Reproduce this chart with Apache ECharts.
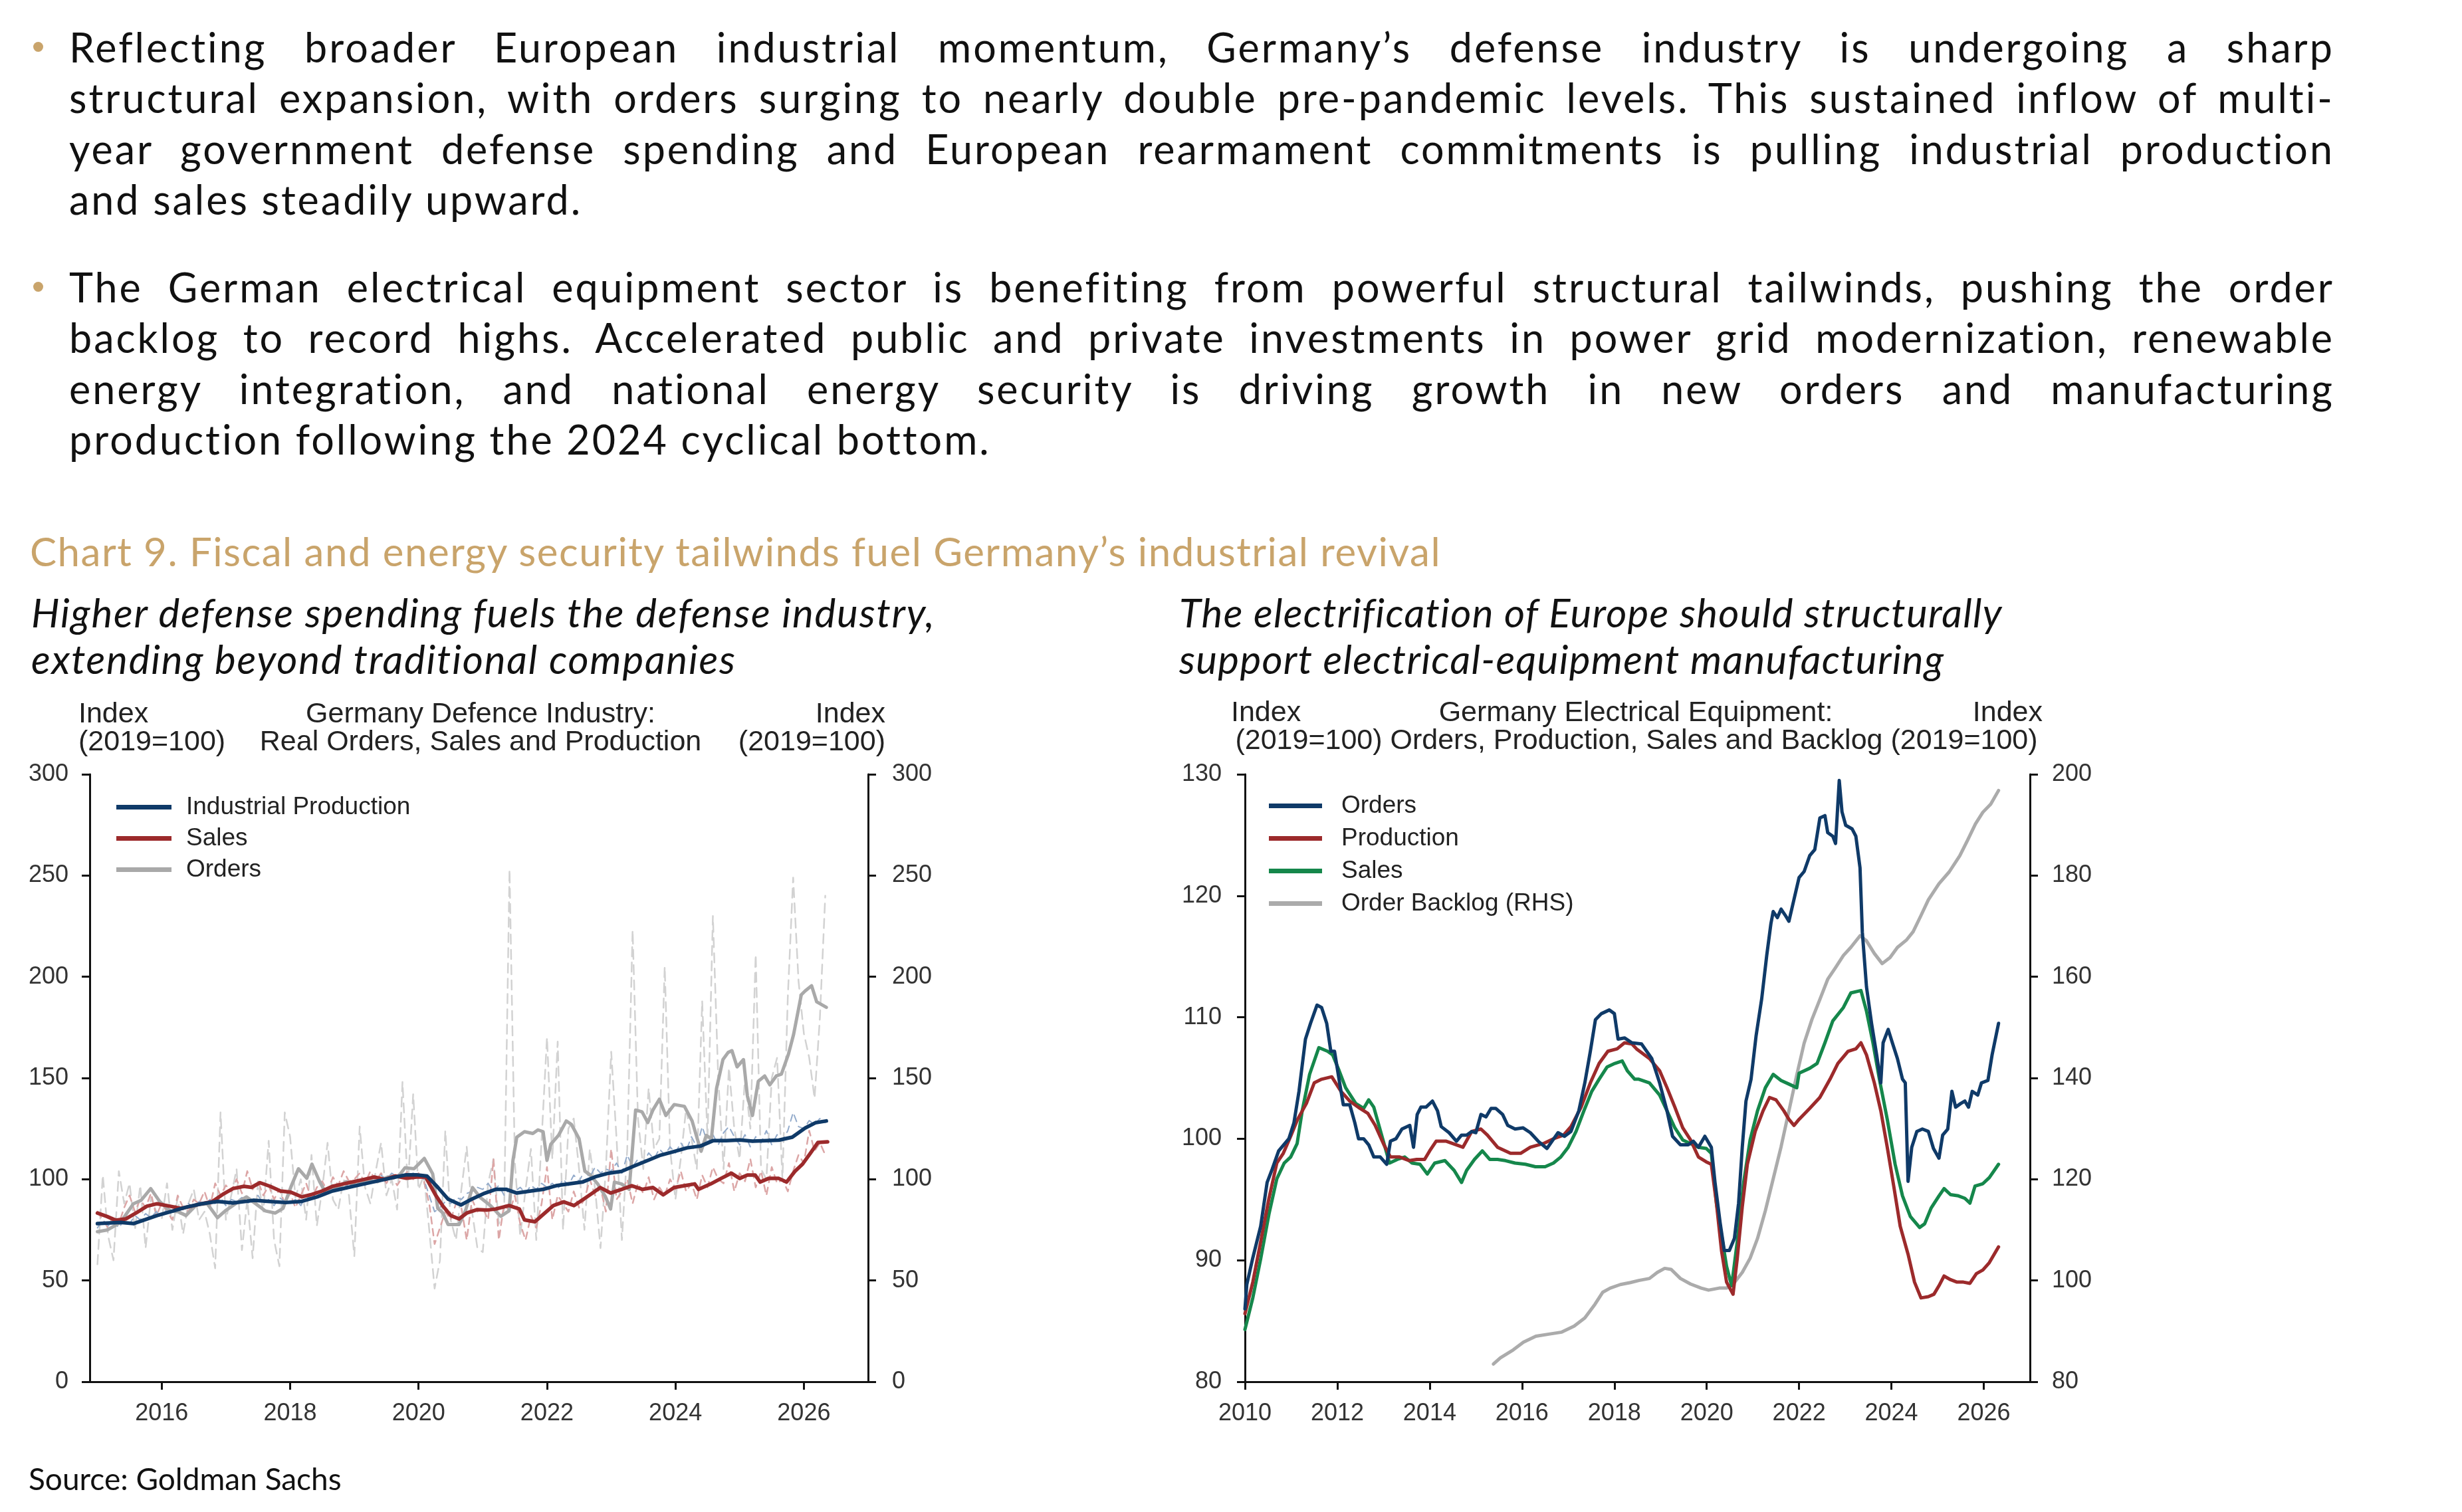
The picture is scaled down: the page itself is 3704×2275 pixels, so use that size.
<!DOCTYPE html>
<html>
<head>
<meta charset="utf-8">
<title>Chart 9 - Germany industrial revival</title>
<script src="https://cdn.jsdelivr.net/npm/echarts@6.0.0/dist/echarts.min.js"></script>
<style>
  html, body { margin: 0; padding: 0; background: #fff; }
  body { width: 3704px; height: 2275px; position: relative; overflow: hidden; font-family: Lato, "Open Sans", sans-serif; color: #111; }
  .para { position: absolute; left: 104px; width: 3408px; font-size: 61px; line-height: 76.3px; }
  .para div { text-align: justify; text-align-last: justify; }
  .para div.end { text-align-last: left; }
  .dot { position: absolute; left: 50px; width: 15px; height: 15px; border-radius: 50%; background: #c9a46b; }
  .title { position: absolute; left: 45px; top: 794px; font-size: 60px; line-height: 70px; letter-spacing: 1.5px; color: #c9a46b; white-space: nowrap; }
  .sub { position: absolute; top: 886px; font-size: 60px; line-height: 70px; letter-spacing: 1.8px; font-style: italic; white-space: nowrap; }
  .source { position: absolute; left: 43px; top: 2200px; font-size: 46px; line-height: 50px; white-space: nowrap; }
  #left { position: absolute; left: 0; top: 1030px; width: 1750px; height: 1200px; }
  #right { position: absolute; left: 1750px; top: 1030px; width: 1600px; height: 1200px; }
</style>
</head>
<body>

<div class="dot" style="top:63px"></div>
<div class="para" style="top:33px">
  <div>Reflecting broader European industrial momentum, Germany’s defense industry is undergoing a sharp</div>
  <div>structural expansion, with orders surging to nearly double pre-pandemic levels. This sustained inflow of multi-</div>
  <div>year government defense spending and European rearmament commitments is pulling industrial production</div>
  <div class="end">and sales steadily upward.</div>
</div>

<div class="dot" style="top:424px"></div>
<div class="para" style="top:394px">
  <div>The German electrical equipment sector is benefiting from powerful structural tailwinds, pushing the order</div>
  <div>backlog to record highs. Accelerated public and private investments in power grid modernization, renewable</div>
  <div>energy integration, and national energy security is driving growth in new orders and manufacturing</div>
  <div class="end">production following the 2024 cyclical bottom.</div>
</div>

<div class="title">Chart 9. Fiscal and energy security tailwinds fuel Germany’s industrial revival</div>
<div class="sub" style="left:47px">Higher defense spending fuels the defense industry,<br>extending beyond traditional companies</div>
<div class="sub" style="left:1774px; letter-spacing:1.3px">The electrification of Europe should structurally<br>support electrical-equipment manufacturing</div>

<div id="left"></div>
<div id="right"></div>

<div class="source">Source: Goldman Sachs</div>

<script>
// ---------- left chart: defence industry (index 2019=100) ----------
const defenceYears = [2016, 2018, 2020, 2022, 2024, 2026];

// solid lines, [year, index]
const ipSolid = [[2015.0,78.1],[2015.36,78.7],[2015.56,78.1],[2015.72,79.8],[2015.93,82.1],[2016.13,83.9],[2016.38,86.2],[2016.62,87.9],[2016.87,89.0],[2017.11,88.3],[2017.44,89.6],[2017.68,89.0],[2017.93,88.5],[2018.17,89.0],[2018.42,91.3],[2018.66,94.2],[2018.91,96.0],[2019.15,97.7],[2019.4,99.4],[2019.64,101.1],[2019.81,102.2],[2019.97,102.2],[2020.13,101.6],[2020.3,96.0],[2020.46,90.2],[2020.66,87.3],[2020.83,90.2],[2021.03,93.1],[2021.2,95.0],[2021.37,95.0],[2021.53,93.2],[2021.73,94.1],[2021.94,95.0],[2022.14,96.8],[2022.34,97.7],[2022.55,98.6],[2022.75,101.2],[2022.96,103.0],[2023.16,103.9],[2023.36,106.6],[2023.57,109.3],[2023.77,111.9],[2023.98,113.7],[2024.18,115.5],[2024.39,116.4],[2024.59,119.1],[2024.79,119.1],[2025.0,119.4],[2025.2,118.8],[2025.41,119.1],[2025.61,119.3],[2025.82,120.8],[2026.02,125.3],[2026.18,127.9],[2026.35,128.8]];

const salesSolid = [[2015.0,83.3],[2015.15,81.6],[2015.28,79.8],[2015.44,80.4],[2015.6,83.3],[2015.77,86.7],[2015.93,87.9],[2016.13,86.7],[2016.3,85.6],[2016.46,86.7],[2016.62,87.9],[2016.79,89.0],[2016.95,92.5],[2017.11,95.4],[2017.28,96.5],[2017.4,96.0],[2017.53,98.3],[2017.69,96.5],[2017.85,94.2],[2018.01,93.6],[2018.18,91.3],[2018.34,92.5],[2018.5,94.2],[2018.66,96.5],[2018.83,97.7],[2018.99,98.8],[2019.15,99.9],[2019.31,101.1],[2019.48,99.9],[2019.64,101.6],[2019.81,100.5],[2019.97,101.1],[2020.11,101.1],[2020.26,92.5],[2020.38,86.7],[2020.5,82.1],[2020.63,80.4],[2020.75,83.3],[2020.91,85.0],[2021.07,84.8],[2021.2,85.3],[2021.41,87.0],[2021.57,85.3],[2021.65,79.9],[2021.81,79.0],[2021.94,82.6],[2022.1,87.0],[2022.26,88.8],[2022.42,87.0],[2022.59,90.6],[2022.71,93.2],[2022.83,95.9],[2022.99,93.2],[2023.16,95.0],[2023.32,96.8],[2023.49,95.0],[2023.65,95.9],[2023.81,92.3],[2023.98,95.9],[2024.14,96.8],[2024.3,97.7],[2024.36,95.0],[2024.55,97.7],[2024.71,100.4],[2024.87,103.0],[2025.0,100.4],[2025.12,102.1],[2025.24,102.1],[2025.32,98.6],[2025.45,100.4],[2025.61,100.4],[2025.73,98.6],[2025.86,103.9],[2025.98,107.5],[2026.1,112.8],[2026.22,118.2],[2026.37,118.5]];

const ordersSolid = [[2015.0,74.1],[2015.15,74.9],[2015.36,78.7],[2015.56,87.9],[2015.68,89.6],[2015.83,95.4],[2015.97,89.0],[2016.13,84.4],[2016.26,83.9],[2016.38,82.1],[2016.54,87.3],[2016.71,87.9],[2016.87,81.0],[2016.99,84.4],[2017.15,87.9],[2017.32,91.3],[2017.44,88.5],[2017.61,84.4],[2017.77,83.3],[2017.89,85.6],[2018.01,96.0],[2018.13,105.2],[2018.26,100.5],[2018.34,107.5],[2018.46,98.8],[2018.54,94.2],[2018.71,95.4],[2018.87,98.8],[2019.03,97.1],[2019.19,99.4],[2019.36,98.8],[2019.52,101.1],[2019.69,101.6],[2019.79,105.7],[2019.93,105.2],[2020.09,110.3],[2020.22,102.7],[2020.3,85.6],[2020.38,83.3],[2020.46,77.6],[2020.63,77.6],[2020.73,84.4],[2020.84,95.9],[2020.96,91.0],[2021.12,87.0],[2021.28,81.7],[2021.41,84.4],[2021.47,109.3],[2021.53,120.8],[2021.65,123.5],[2021.78,122.6],[2021.86,124.4],[2021.94,123.5],[2022.0,109.3],[2022.06,117.3],[2022.18,121.7],[2022.3,128.8],[2022.38,127.1],[2022.5,120.0],[2022.59,104.0],[2022.67,102.2],[2022.79,97.7],[2022.91,91.4],[2022.99,85.3],[2023.05,98.6],[2023.16,97.7],[2023.28,95.0],[2023.38,134.2],[2023.48,133.3],[2023.57,128.0],[2023.65,134.2],[2023.75,139.5],[2023.85,131.5],[2023.98,136.9],[2024.14,136.0],[2024.26,128.8],[2024.34,120.0],[2024.4,113.8],[2024.48,121.7],[2024.56,120.0],[2024.64,144.8],[2024.74,159.1],[2024.82,162.6],[2024.88,163.5],[2024.96,155.5],[2025.06,159.1],[2025.12,141.3],[2025.2,131.5],[2025.29,148.4],[2025.39,151.0],[2025.47,146.6],[2025.57,151.0],[2025.65,151.9],[2025.76,161.8],[2025.84,171.5],[2025.96,191.1],[2026.02,193.0],[2026.12,195.6],[2026.2,187.6],[2026.35,184.9]];

// dashed monthly readings, Jan 2015 .. May 2026
const ordersMonthly = [
  58,102,72,60,104,88,98,75,97,66,91,84,
  80,98,75,91,73,88,95,80,84,73,56,133,
  80,92,105,65,90,61,99,84,119,70,57,133,
  121,91,100,80,112,77,95,118,90,85,100,92,
  62,126,96,88,104,118,92,100,85,148,96,142,
  95,102,75,46,60,124,80,70,95,116,84,66,
  64,98,110,78,85,253,108,72,95,115,70,120,
  170,110,168,75,125,130,105,75,115,95,66,105,
  163,120,70,115,223,130,105,145,115,120,205,115,
  90,110,135,120,105,188,120,230,150,105,155,125,
  110,150,125,211,105,100,150,160,100,190,249,198,
  172,160,140,180,240
];
const salesMonthly = [
  84,80,76,82,78,86,92,84,90,86,93,82,
  88,84,80,92,86,84,90,88,94,86,98,92,
  97,94,100,93,104,95,99,92,97,90,95,88,
  93,86,92,98,90,96,99,94,101,97,104,99,
  100,103,98,104,99,103,98,102,97,101,104,100,
  103,99,88,68,76,84,80,88,86,70,90,84,
  86,80,110,70,88,84,92,78,70,82,76,88,
  106,80,92,88,84,94,86,90,100,92,96,84,
  115,90,94,100,88,98,93,101,90,96,92,100,
  95,104,94,98,90,102,96,106,100,98,108,94,
  103,99,110,96,104,92,106,98,100,94,104,112,
  108,124,114,118,112
];
const ipMonthly = [
  76,80,77,79,76,80,78,82,80,83,81,84,
  82,85,84,87,85,88,86,89,87,90,88,91,
  87,90,89,91,88,90,92,88,90,87,91,89,
  88,90,87,92,90,94,92,96,94,97,95,98,
  96,99,97,100,99,102,100,103,101,104,102,103,
  102,100,92,84,86,89,88,91,90,93,94,96,
  95,98,94,97,92,95,94,96,93,97,95,98,
  96,98,95,100,97,102,99,104,101,106,103,105,
  104,108,103,112,106,110,108,113,110,115,112,116,
  113,118,114,121,116,126,118,122,117,123,126,121,
  117,122,116,121,118,124,117,122,119,124,133,126,
  125,129,127,130,128
];

// ---------- right chart: electrical equipment ----------
const elecYears = [2010, 2012, 2014, 2016, 2018, 2020, 2022, 2024, 2026];

const elecOrders = [[2010.0,86.0],[2010.04,88.0],[2010.17,90.2],[2010.34,92.8],[2010.48,96.4],[2010.59,97.5],[2010.73,99.0],[2010.95,100.0],[2011.06,101.3],[2011.17,103.9],[2011.31,108.2],[2011.42,109.5],[2011.56,111.0],[2011.66,110.8],[2011.77,109.5],[2011.86,107.2],[2011.94,107.2],[2012.05,104.6],[2012.13,102.8],[2012.27,102.8],[2012.38,101.3],[2012.46,100.0],[2012.57,100.0],[2012.68,99.5],[2012.79,98.5],[2012.93,98.5],[2013.07,97.9],[2013.15,99.8],[2013.27,100.0],[2013.4,100.8],[2013.57,101.1],[2013.65,99.3],[2013.73,102.0],[2013.81,102.6],[2013.92,102.6],[2014.06,103.1],[2014.17,102.3],[2014.25,101.0],[2014.42,100.5],[2014.58,99.8],[2014.69,100.3],[2014.8,100.3],[2014.91,100.6],[2015.0,100.5],[2015.11,102.0],[2015.22,101.8],[2015.33,102.5],[2015.43,102.5],[2015.58,102.0],[2015.69,101.1],[2015.85,100.8],[2016.02,100.9],[2016.18,100.5],[2016.35,99.8],[2016.54,99.2],[2016.65,99.8],[2016.78,100.5],[2016.92,100.2],[2017.06,100.6],[2017.23,102.3],[2017.36,104.6],[2017.48,107.2],[2017.59,109.8],[2017.72,110.3],[2017.89,110.6],[2018.0,110.3],[2018.08,108.2],[2018.22,108.3],[2018.38,107.9],[2018.59,107.8],[2018.81,106.6],[2018.98,104.6],[2019.14,102.3],[2019.26,100.2],[2019.43,99.5],[2019.6,99.5],[2019.71,99.8],[2019.82,99.3],[2019.96,100.2],[2020.1,99.3],[2020.18,96.4],[2020.29,93.1],[2020.38,90.8],[2020.49,90.8],[2020.6,91.8],[2020.69,94.7],[2020.77,99.3],[2020.85,103.1],[2020.96,104.9],[2021.07,108.5],[2021.19,111.5],[2021.3,115.1],[2021.39,117.7],[2021.44,118.7],[2021.53,118.2],[2021.61,118.9],[2021.7,118.4],[2021.78,117.9],[2021.89,119.7],[2022.0,121.5],[2022.11,122.0],[2022.23,123.3],[2022.34,123.8],[2022.45,126.4],[2022.56,126.6],[2022.62,125.2],[2022.73,124.9],[2022.79,124.3],[2022.87,129.5],[2022.93,126.9],[2023.01,125.8],[2023.15,125.5],[2023.23,124.9],[2023.32,122.3],[2023.37,117.0],[2023.46,112.5],[2023.57,109.5],[2023.68,106.9],[2023.77,104.6],[2023.82,107.9],[2023.93,109.0],[2024.02,107.9],[2024.13,106.6],[2024.24,104.9],[2024.3,104.6],[2024.36,96.5],[2024.44,99.3],[2024.55,100.6],[2024.67,100.8],[2024.8,100.6],[2024.91,99.2],[2025.03,98.4],[2025.11,100.3],[2025.22,100.8],[2025.31,103.9],[2025.39,102.6],[2025.5,102.9],[2025.59,103.1],[2025.67,102.6],[2025.75,103.9],[2025.87,103.6],[2025.95,104.6],[2026.09,104.8],[2026.18,106.9],[2026.32,109.5]];

const elecProduction = [[2010.0,85.6],[2010.17,88.2],[2010.34,91.5],[2010.52,95.1],[2010.69,98.0],[2010.83,98.8],[2011.0,100.3],[2011.14,101.6],[2011.33,102.9],[2011.5,104.6],[2011.66,104.9],[2011.88,105.1],[2012.08,103.9],[2012.27,103.1],[2012.49,102.5],[2012.66,102.1],[2012.82,101.1],[2013.01,99.5],[2013.15,98.5],[2013.35,98.5],[2013.56,98.2],[2013.72,98.3],[2013.89,98.3],[2014.0,99.0],[2014.14,99.8],[2014.36,99.8],[2014.58,99.5],[2014.72,99.3],[2014.91,100.6],[2015.11,100.8],[2015.25,100.3],[2015.47,99.3],[2015.75,98.8],[2015.97,98.8],[2016.18,99.3],[2016.46,99.6],[2016.68,100.0],[2016.9,100.3],[2017.06,101.0],[2017.28,102.6],[2017.48,104.6],[2017.67,106.2],[2017.86,107.2],[2018.06,107.4],[2018.22,107.9],[2018.38,107.8],[2018.48,107.4],[2018.76,106.6],[2018.98,105.6],[2019.14,104.2],[2019.31,102.6],[2019.48,100.9],[2019.65,99.9],[2019.82,98.5],[2019.99,98.1],[2020.1,97.9],[2020.21,94.7],[2020.32,90.8],[2020.43,88.2],[2020.57,87.2],[2020.66,90.1],[2020.77,94.4],[2020.88,97.9],[2021.05,100.6],[2021.22,102.3],[2021.36,103.4],[2021.5,103.2],[2021.67,102.3],[2021.78,101.6],[2021.89,101.1],[2022.0,101.6],[2022.23,102.5],[2022.45,103.4],[2022.67,104.9],[2022.84,106.2],[2023.06,107.2],[2023.23,107.4],[2023.34,107.9],[2023.46,106.9],[2023.63,104.6],[2023.77,102.3],[2023.91,99.3],[2024.05,96.1],[2024.19,92.8],[2024.36,90.5],[2024.5,88.2],[2024.64,86.9],[2024.8,87.0],[2024.92,87.2],[2025.03,87.9],[2025.14,88.7],[2025.28,88.4],[2025.42,88.2],[2025.56,88.2],[2025.7,88.1],[2025.84,88.9],[2025.98,89.2],[2026.12,89.8],[2026.32,91.1]];

const elecSales = [[2010.0,84.3],[2010.17,86.9],[2010.34,90.1],[2010.52,93.8],[2010.69,96.7],[2010.85,98.0],[2010.99,98.5],[2011.13,99.6],[2011.24,102.3],[2011.4,105.3],[2011.6,107.5],[2011.79,107.2],[2011.9,106.9],[2012.04,105.6],[2012.18,104.2],[2012.4,102.9],[2012.57,102.5],[2012.68,103.2],[2012.79,102.6],[2012.96,100.3],[2013.13,98.0],[2013.3,98.3],[2013.46,98.5],[2013.62,98.0],[2013.79,97.9],[2013.95,97.1],[2014.11,98.0],[2014.33,98.2],[2014.53,97.4],[2014.69,96.4],[2014.8,97.4],[2014.97,98.3],[2015.14,99.0],[2015.3,98.3],[2015.47,98.3],[2015.64,98.2],[2015.85,98.0],[2016.07,97.9],[2016.29,97.7],[2016.5,97.7],[2016.68,98.0],[2016.84,98.5],[2017.0,99.3],[2017.17,100.6],[2017.34,102.3],[2017.51,103.9],[2017.67,104.9],[2017.84,105.9],[2018.01,106.2],[2018.17,106.4],[2018.28,105.6],[2018.44,104.9],[2018.53,104.9],[2018.76,104.6],[2018.98,103.6],[2019.14,102.3],[2019.31,100.9],[2019.48,99.9],[2019.65,99.6],[2019.82,99.3],[2019.99,99.2],[2020.1,98.8],[2020.21,94.7],[2020.32,92.1],[2020.43,89.5],[2020.54,87.9],[2020.66,91.5],[2020.8,96.4],[2020.94,99.9],[2021.1,102.3],[2021.27,104.2],[2021.44,105.3],[2021.61,104.8],[2021.78,104.5],[2021.95,104.2],[2022.0,105.4],[2022.23,105.8],[2022.39,106.2],[2022.56,107.9],[2022.73,109.7],[2022.96,110.8],[2023.12,112.0],[2023.34,112.2],[2023.46,110.5],[2023.6,107.9],[2023.74,104.9],[2023.91,101.6],[2024.08,97.9],[2024.24,95.3],[2024.41,93.6],[2024.61,92.7],[2024.72,93.0],[2024.86,94.3],[2025.03,95.3],[2025.14,95.9],[2025.28,95.4],[2025.45,95.3],[2025.59,95.1],[2025.7,94.7],[2025.81,96.1],[2025.98,96.3],[2026.12,96.8],[2026.32,97.9]];

const elecBacklog = [[2015.38,83.5],[2015.53,84.7],[2015.81,86.3],[2016.03,87.8],[2016.3,89.0],[2016.58,89.4],[2016.86,89.8],[2017.13,91.0],[2017.36,92.6],[2017.58,95.3],[2017.75,97.7],[2017.91,98.5],[2018.13,99.2],[2018.35,99.6],[2018.53,100.0],[2018.76,100.4],[2018.93,101.6],[2019.09,102.4],[2019.23,102.2],[2019.43,100.4],[2019.65,99.3],[2019.88,98.5],[2020.04,98.1],[2020.27,98.5],[2020.43,98.5],[2020.6,99.6],[2020.77,101.6],[2020.94,104.4],[2021.1,108.3],[2021.27,113.8],[2021.44,120.1],[2021.61,126.4],[2021.78,133.5],[2021.95,140.6],[2022.11,146.9],[2022.28,151.6],[2022.45,155.5],[2022.62,159.5],[2022.79,161.8],[2022.96,164.2],[2023.12,165.8],[2023.32,168.1],[2023.46,167.1],[2023.63,164.6],[2023.8,162.6],[2023.97,163.8],[2024.13,165.8],[2024.33,167.3],[2024.47,168.9],[2024.64,172.1],[2024.8,175.2],[2025.03,178.4],[2025.25,180.7],[2025.48,183.9],[2025.65,187.0],[2025.82,190.2],[2025.98,192.5],[2026.15,194.1],[2026.32,196.8]];

// ---------- shared styling ----------
const FONT = '"Liberation Sans", Arial, sans-serif';
const AXIS_COLOR = '#111';
const LABEL_COLOR = '#333';

// widen the body text a little, but never let a line wrap
document.querySelectorAll('.para div').forEach(function (d) {
  let ls = 3;
  d.style.letterSpacing = ls + 'px';
  while (d.getBoundingClientRect().height > 100 && ls > -3) {
    ls -= 0.25;
    d.style.letterSpacing = ls + 'px';
  }
});

function monthly(values) {
  return values.map((v, i) => [2015 + i / 12, v]);
}

function xAxisFor(min, max, years) {
  return {
    type: 'value', min: min, max: max,
    axisLine: { onZero: false, lineStyle: { color: AXIS_COLOR, width: 3 } },
    axisTick: { customValues: years, length: 12, lineStyle: { color: AXIS_COLOR, width: 3 } },
    axisLabel: { customValues: years, formatter: v => String(v), fontSize: 36, color: LABEL_COLOR, fontFamily: FONT, margin: 30 },
    splitLine: { show: false }
  };
}

function yAxisFor(pos, min, max, interval, margin) {
  return {
    type: 'value', position: pos, min: min, max: max, interval: interval,
    axisLine: { show: true, onZero: false, lineStyle: { color: AXIS_COLOR, width: 3 } },
    axisTick: { show: true, length: 12, lineStyle: { color: AXIS_COLOR, width: 3 } },
    axisLabel: { fontSize: 36, color: LABEL_COLOR, fontFamily: FONT, margin: margin },
    splitLine: { show: false }
  };
}

function header(text, x, y, align) {
  return {
    type: 'text', x: x, y: y,
    style: { text: text, font: '43px ' + FONT, fill: '#222', textAlign: align, textVerticalAlign: 'middle' }
  };
}

function line(name, data, color, width, yIdx, dash) {
  return {
    name: name, type: 'line', data: data, yAxisIndex: yIdx || 0,
    showSymbol: false, symbol: 'none', color: color, silent: true,
    lineStyle: { color: color, width: width, type: dash || 'solid', cap: 'round', join: 'round' }
  };
}

// ---------- left chart ----------
const left = echarts.init(document.getElementById('left'));
left.setOption({
  animation: false,
  textStyle: { fontFamily: FONT },
  graphic: [
    header('Index', 118, 45, 'left'),
    header('(2019=100)', 118, 87, 'left'),
    header('Germany Defence Industry:', 723, 45, 'center'),
    header('Real Orders, Sales and Production', 723, 87, 'center'),
    header('Index', 1332, 45, 'right'),
    header('(2019=100)', 1332, 87, 'right')
  ],
  legend: {
    data: ['Industrial Production', 'Sales', 'Orders'],
    orient: 'vertical', left: 170, top: 161,
    icon: 'rect', itemWidth: 83, itemHeight: 7, itemGap: 10,
    selectedMode: false,
    textStyle: { fontSize: 37, lineHeight: 37, color: '#222', fontFamily: FONT, padding: [0, 0, 0, 17] }
  },
  grid: { left: 135, top: 135, width: 1171, height: 914, outerBoundsMode: 'none' },
  xAxis: xAxisFor(2014.88, 2027, defenceYears),
  yAxis: [yAxisFor('left', 0, 300, 50, 32), yAxisFor('right', 0, 300, 50, 36)],
  series: [
    line('Orders (monthly)', monthly(ordersMonthly), '#d2d2d2', 2.5, 0, [14, 9]),
    line('Sales (monthly)', monthly(salesMonthly), '#dca6a6', 2.5, 0, [10, 8]),
    line('Industrial Production (monthly)', monthly(ipMonthly), '#93abcb', 2, 0, [10, 8]),
    line('Orders', ordersSolid, '#a9a9a9', 5),
    line('Sales', salesSolid, '#9c2a2b', 5.5),
    line('Industrial Production', ipSolid, '#0f3a68', 5.5)
  ]
});

// ---------- right chart ----------
const right = echarts.init(document.getElementById('right'));
right.setOption({
  animation: false,
  textStyle: { fontFamily: FONT },
  graphic: [
    header('Index', 102, 43, 'left'),
    header('Germany Electrical Equipment:', 711, 43, 'center'),
    header('(2019=100) Orders, Production, Sales and Backlog (2019=100)', 712, 85, 'center'),
    header('Index', 1323, 43, 'right')
  ],
  legend: {
    data: ['Orders', 'Production', 'Sales', 'Order Backlog (RHS)'],
    orient: 'vertical', left: 154, top: 159,
    icon: 'rect', itemWidth: 80, itemHeight: 7, itemGap: 12,
    selectedMode: false,
    textStyle: { fontSize: 37, lineHeight: 37, color: '#222', fontFamily: FONT, padding: [0, 0, 0, 24] }
  },
  grid: { left: 123, top: 135, width: 1181, height: 914, outerBoundsMode: 'none' },
  xAxis: xAxisFor(2010, 2027, elecYears),
  yAxis: [yAxisFor('left', 80, 130, 10, 35), yAxisFor('right', 80, 200, 20, 33)],
  series: [
    line('Order Backlog (RHS)', elecBacklog, '#ababab', 5, 1),
    line('Sales', elecSales, '#15874b', 5),
    line('Production', elecProduction, '#9c2a2b', 5),
    line('Orders', elecOrders, '#0f3a68', 5)
  ]
});
</script>
</body>
</html>
